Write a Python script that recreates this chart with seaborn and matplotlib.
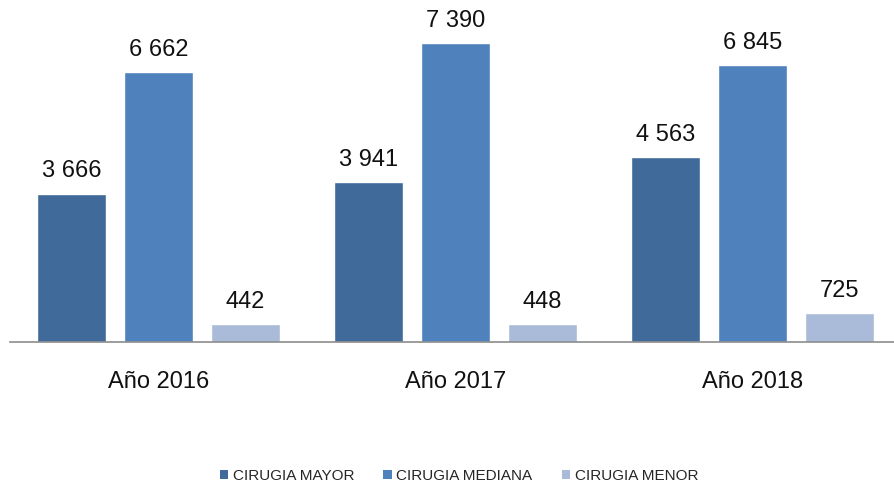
import matplotlib
matplotlib.use("Agg")
import matplotlib.pyplot as plt
import seaborn as sns
import pandas as pd
from matplotlib.patches import Patch

years = ["Año 2016", "Año 2017", "Año 2018"]
series = ["CIRUGIA MAYOR", "CIRUGIA MEDIANA", "CIRUGIA MENOR"]
mayor = [3666, 3941, 4563]
mediana = [6662, 7390, 6845]
menor = [442, 448, 725]
colors = ["#3F6A9A", "#4F81BD", "#A9BBD8"]

rows = []
for s, vals in zip(series, [mayor, mediana, menor]):
    for y, v in zip(years, vals):
        rows.append({"year": y, "serie": s, "value": v})
df = pd.DataFrame(rows)

sns.set_theme(style="white")
plt.rcParams['font.family'] = ['Liberation Sans', 'DejaVu Sans']

fig = plt.figure(figsize=(8.95, 4.88), dpi=100)
ax = fig.add_axes([10/895, 1 - 342/488, 891/895, 332/488])

sns.barplot(data=df, x="year", y="value", hue="serie", hue_order=series,
            order=years, palette=colors, width=0.879, gap=0.2,
            ax=ax, legend=False, saturation=1)

for cont in ax.containers:
    labels = [f"{int(v):,}".replace(",", " ") for v in cont.datavalues]
    ax.bar_label(cont, labels=labels, padding=8, fontsize=17, color="#111111")

ax.set_ylim(0, 8200)
ax.set_xlim(-0.5, 2.5)
ax.set_xlabel("")
ax.set_ylabel("")
ax.set_yticks([])
for sp in ["top", "right", "left"]:
    ax.spines[sp].set_visible(False)
ax.spines["bottom"].set_color("#8c8c8c")
ax.spines["bottom"].set_linewidth(1.2)
ax.tick_params(axis="x", length=0, labelsize=17, pad=21, labelcolor="#111111")

handles = [Patch(facecolor=c, edgecolor="none") for c in colors]
fig.legend(handles, series, loc="center", bbox_to_anchor=(459/895, 1 - 476/488),
           ncol=3, frameon=False, fontsize=11, handlelength=0.55, handleheight=0.55,
           handletextpad=0.3, columnspacing=1.9)

fig.savefig("out.png", dpi=100)
